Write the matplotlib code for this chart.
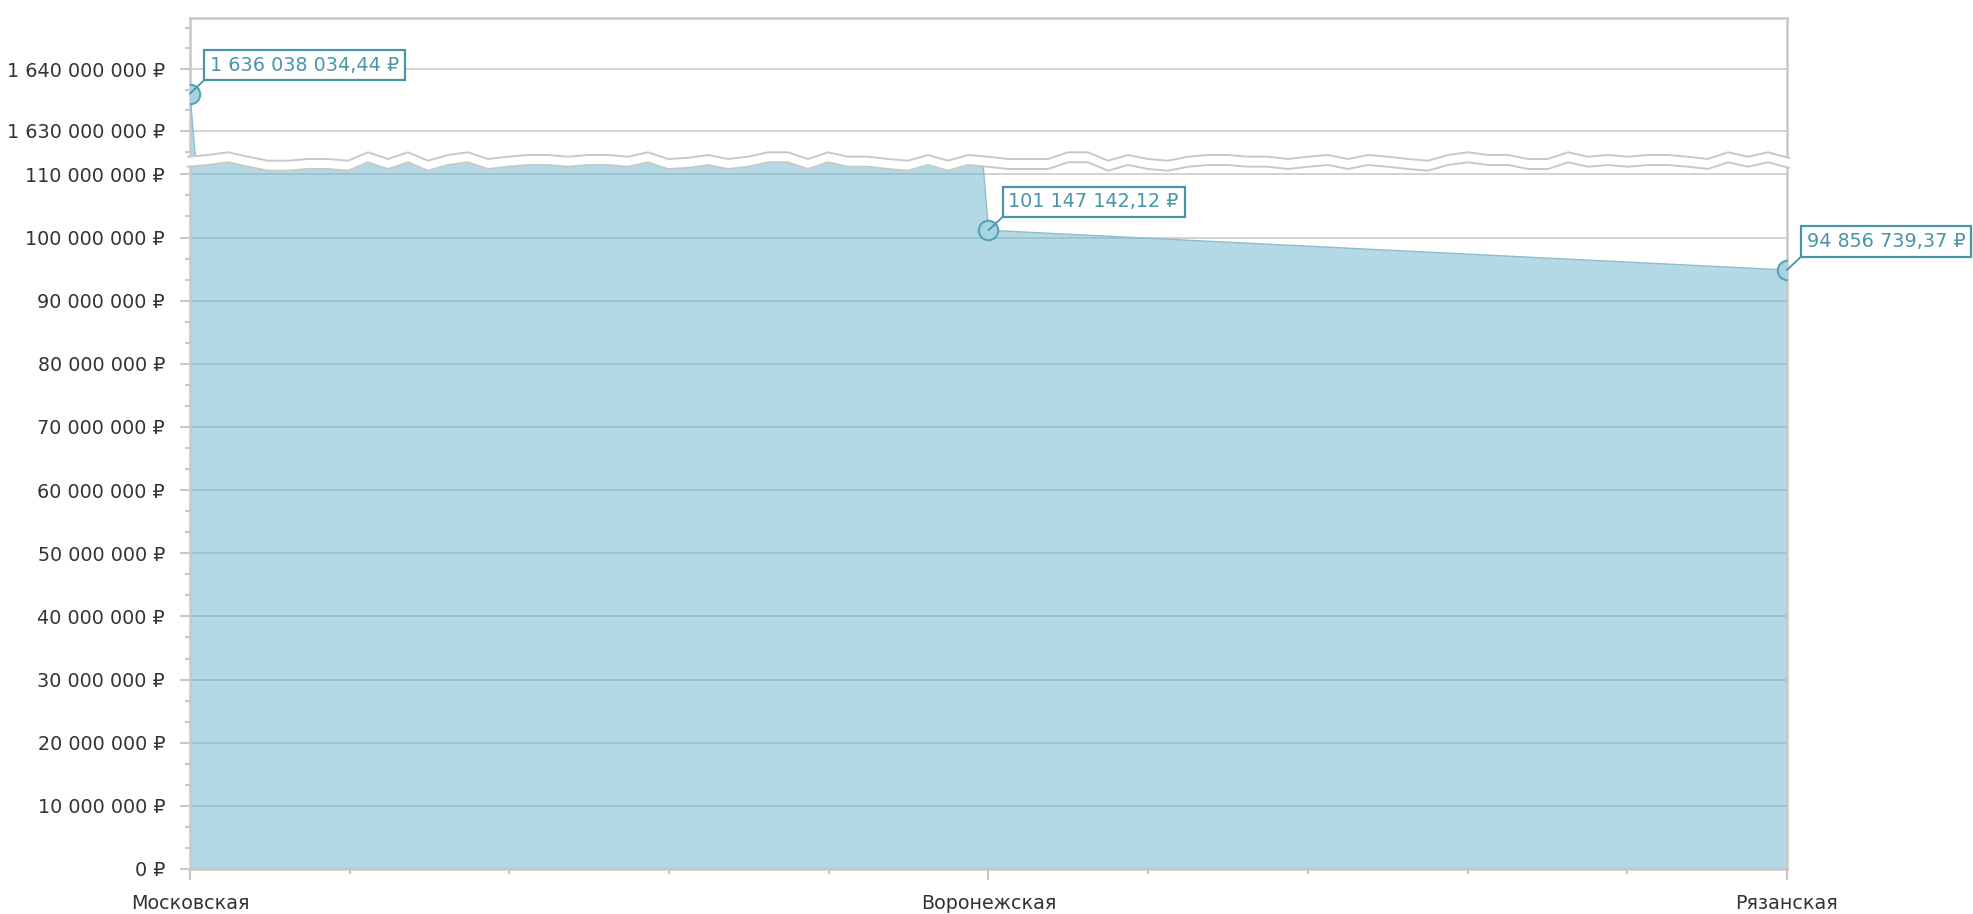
import matplotlib
matplotlib.use('Agg')
import matplotlib.pyplot as plt
import numpy as np
from matplotlib.ticker import FuncFormatter, MultipleLocator

# data
regions = ['Московская', 'Воронежская', 'Рязанская']
amounts = [1636038034.44, 101147142.12, 94856739.37]
low_ticks = [0, 10e6, 20e6, 30e6, 40e6, 50e6, 60e6, 70e6, 80e6, 90e6, 100e6, 110e6]
high_ticks = [1630e6, 1640e6]
low_lim = (0, 111.96e6)
high_lim = (1625.16e6, 1648.23e6)

# zigzag of the scale break (levels 0..4, one every 20 px)
zig_levels = [2, 1, 0, 2, 4, 4, 3, 3, 4, 0, 3, 0, 4, 1, 0, 3, 2, 1, 1, 2, 1,
              1, 2, 0, 3, 2.5, 1, 3, 2, 0, 0, 3, 0, 2, 2, 3, 4, 1, 4, 1, 2,
              3, 3, 3, 0, 0, 4, 1, 3, 4, 2, 1, 1, 2, 2, 3, 2, 1, 3, 1, 2,
              3, 4, 1, 0, 1, 1, 3, 3, 0, 2, 1, 2, 1, 1, 2, 3, 0, 2, 0, 2.5]

W, H = 1974, 914
L, R = 190, 1787
GRAY = '#c8c8c8'
TEAL = '#4895a8'
TXT = '#333333'

plt.rcParams['font.family'] = ['DejaVu Sans']
plt.rcParams['font.size'] = 13.8

fig = plt.figure(figsize=(W / 100, H / 100), dpi=100)


def rect(top, bottom):
    return [L / W, 1 - bottom / H, (R - L) / W, (bottom - top) / H]


def money(v, pos=None):
    return f'{v:,.0f}'.replace(',', ' ') + ' ₽'


def label(v):
    return f'{v:,.2f}'.replace(',', ' ').replace('.', ',') + ' ₽'


ax_hi = fig.add_axes(rect(18, 161))
ax_lo = fig.add_axes(rect(162, 869))
x = np.arange(len(regions))

for ax in (ax_hi, ax_lo):
    ax.fill_between(x, amounts, 0, color='#5fb1c6', alpha=0.47, lw=0, zorder=2)
    ax.plot(x, amounts, color='#8cbfcb', lw=1, zorder=3)
    ax.plot(x, amounts, 'o', ms=14, mfc='#a6d4e0', mec='#56a3b6', mew=1.5, zorder=4)
    ax.set_xlim(0, len(regions) - 1)
    ax.set_axisbelow(True)
    ax.grid(axis='y', which='major', color=GRAY, lw=1.1)
    for s in ax.spines.values():
        s.set_color(GRAY)
        s.set_linewidth(1.8)
    ax.yaxis.set_major_formatter(FuncFormatter(money))
    ax.yaxis.set_minor_locator(MultipleLocator(10e6 / 3))
    ax.tick_params(axis='y', which='major', length=7, width=1.5, color=GRAY,
                   labelcolor=TXT, pad=11)
    ax.tick_params(axis='y', which='minor', length=3.6, width=1.5, color=GRAY)

ax_hi.set_ylim(*high_lim)
ax_hi.set_yticks(high_ticks)
ax_hi.spines['bottom'].set_visible(False)
ax_hi.tick_params(axis='x', which='both', bottom=False, labelbottom=False)

ax_lo.set_ylim(*low_lim)
ax_lo.set_yticks(low_ticks)
ax_lo.spines['top'].set_visible(False)
ax_lo.set_xticks(x)
ax_lo.set_xticklabels(regions)
ax_lo.xaxis.set_minor_locator(MultipleLocator(0.2))
ax_lo.tick_params(axis='x', which='major', length=8, width=1.5, color=GRAY,
                  labelcolor=TXT, pad=10)
ax_lo.tick_params(axis='x', which='minor', length=3.6, width=1.5, color=GRAY)

# point labels
for xi, v in zip(x, amounts):
    ax = ax_hi if v > low_lim[1] else ax_lo
    ax.annotate(label(v), xy=(xi, v), xytext=(20, 19), textcoords='offset pixels',
                ha='left', va='bottom', color=TEAL, fontsize=13.8, zorder=6,
                bbox=dict(boxstyle='square,pad=0.3', fc='white', ec=TEAL, lw=1.6),
                arrowprops=dict(arrowstyle='-', color=TEAL, lw=1.3, relpos=(0, 0),
                                shrinkA=0, shrinkB=0))

# scale break band
ov = fig.add_axes([0, 0, 1, 1], zorder=5)
ov.set_xlim(0, W)
ov.set_ylim(H, 0)
ov.axis('off')
zx = np.array([L - 2] + list(range(208, R, 20)) + [R + 2])
off = np.interp(zig_levels, [0, 1, 2, 3, 4], [0, 2.7, 4.4, 6.7, 8.4])
upper = 152.3 + off
lower = upper + 10
ov.fill_between(zx, upper, lower, color='white', lw=0)
ov.plot(zx, upper, color=GRAY, lw=1.4)
ov.plot(zx, lower, color=GRAY, lw=1.4)

fig.savefig('out.png', dpi=100)
